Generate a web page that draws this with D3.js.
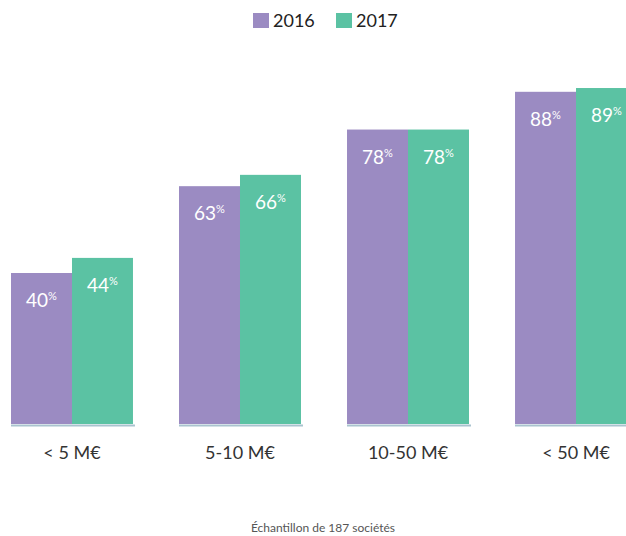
<!DOCTYPE html>
<html><head><meta charset="utf-8">
<script src="https://cdn.jsdelivr.net/npm/d3@7"></script>
<style>body{margin:0;background:#fff}svg{display:block}text{font-family:Lato,"Noto Sans",sans-serif}</style>
</head><body><svg id="c" width="626" height="536"></svg>
<script>
const categories = ["< 5 M€", "5-10 M€", "10-50 M€", "< 50 M€"];
const seriesNames = ["2016", "2017"];
const values2016 = [40, 63, 78, 88];
const values2017 = [44, 66, 78, 89];
const colors = ["#9b8bc2", "#5bc2a3"];
const footer = "Échantillon de 187 sociétés";

const svg = d3.select("#c");
const data = categories.map((c, i) => ({cat: c, vals: [values2016[i], values2017[i]]}));

const x = d3.scaleBand().domain(categories).range([11, 637]).paddingInner(0.274).paddingOuter(0);
const xs = d3.scaleBand().domain(seriesNames).range([0, x.bandwidth()]).padding(0);
const y = d3.scaleLinear().domain([0, 100]).range([424, 46.5]);

const g = svg.selectAll("g.grp").data(data).join("g").attr("class", "grp")
  .attr("transform", d => `translate(${x(d.cat)},0)`);

g.selectAll("rect").data(d => d.vals.map((v, i) => ({v, i})))
  .join("rect")
  .attr("x", d => xs(seriesNames[d.i]))
  .attr("width", xs.bandwidth())
  .attr("y", d => y(d.v))
  .attr("height", d => y(0) - y(d.v))
  .attr("fill", d => colors[d.i]);

// baseline per group
g.append("line").attr("x1", 0).attr("x2", x.bandwidth() + 2)
  .attr("y1", y(0) + 1.5).attr("y2", y(0) + 1.5)
  .attr("stroke", "#a9c3cf").attr("stroke-width", 2);

// value labels
const lbl = g.selectAll("text.val").data(d => d.vals.map((v, i) => ({v, i})))
  .join("text").attr("class", "val")
  .attr("x", d => xs(seriesNames[d.i]) + xs.bandwidth() / 2)
  .attr("y", d => y(d.v) + 34)
  .attr("text-anchor", "middle")
  .attr("fill", "#fff")
  .attr("font-size", 19);
lbl.append("tspan").text(d => d.v);
lbl.append("tspan").text("%").attr("font-size", 11).attr("dy", -7);

// category axis labels
const xAxis = d3.axisBottom(x).tickSize(0).tickPadding(0);
const ax = svg.append("g").attr("transform", `translate(0,${y(0)})`).call(xAxis);
ax.select(".domain").remove();
ax.selectAll("text").attr("font-size", 18).attr("fill", "#333")
  .attr("font-family", "Lato,'Noto Sans',sans-serif")
  .attr("dy", null).attr("y", 35);

// legend
const leg = svg.append("g").attr("transform", "translate(253,13)");
const li = leg.selectAll("g").data(seriesNames).join("g")
  .attr("transform", (d, i) => `translate(${i * 83},0)`);
li.append("rect").attr("width", 16).attr("height", 15).attr("fill", (d, i) => colors[i]);
li.append("text").attr("x", 20).attr("y", 14).attr("font-size", 18).attr("fill", "#222").text(d => d);

// footer
svg.append("text").attr("x", 323).attr("y", 532).attr("text-anchor", "middle")
  .attr("font-size", 12).attr("fill", "#555").text(footer);
</script></body></html>
